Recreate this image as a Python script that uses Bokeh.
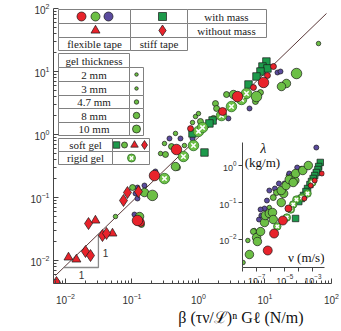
from bokeh.plotting import figure
from bokeh.models import FixedTicker, Label, Title
from bokeh.layouts import column
from bokeh.embed import file_html
from bokeh.resources import INLINE
from bokeh.core.properties import value

# ---------------- main plot data : f - Gamma (N/m) vs beta (tau v / L)^n G l (N/m)
line_x = [0.00708, 84.1]
line_y = [0.00578, 83.4]

red_big_x = [9.5, 0.218, 0.467, 0.121, 3.86]
red_big_y = [6.7, 0.223, 0.578, 0.0432, 4.0]
red_mid_x = [0.134, 2.30]
red_mid_y = [0.0401, 2.32]
red_small_x = [10.9, 13.4, 6.71, 0.759]
red_small_y = [8.65, 12.0, 5.57, 1.24]
tri_x = [0.0111, 0.0146, 0.0282, 0.0509]
tri_y = [0.0112, 0.0104, 0.0432, 0.0269]
dia_x = [0.00733, 0.020, 0.0238, 0.0222, 0.036, 0.0414, 0.0745, 0.0855, 0.125]
dia_y = [0.00448, 0.0139, 0.012, 0.0386, 0.0249, 0.0269, 0.0896, 0.12, 0.124]
sq_x = [10.5, 9.16, 10.9, 8.55, 7.45, 5.65, 1.63, 1.46, 0.813, 1.23]
sq_y = [14.4, 12.0, 11.2, 10.0, 8.34, 6.22, 1.67, 1.50, 1.04, 0.518]
rig_x = [0.308, 0.594, 0.841, 1.0, 1.15, 2.22, 3.13, 4.44, 5.27]
rig_y = [0.20, 0.448, 0.669, 1.12, 1.29, 2.0, 2.78, 3.60, 4.48]
pur_x = [0.109, 0.113, 0.121, 0.154, 0.121, 0.225, 0.536, 0.813, 1.41, 2.82, 5.85, 15.4, 17.1, 0.366]
pur_y = [0.0537, 0.116, 0.144, 0.155, 0.0964, 0.259, 0.865, 0.865, 1.50, 1.80, 2.59, 9.64, 10.0, 0.865]
g2_x = [0.0565, 63.8, 0.269, 0.308, 0.451, 0.615, 0.902, 1.0, 0.813]
g2_y = [0.0499, 27.8, 0.499, 0.72, 1.04, 0.669, 1.93, 2.15, 1.55]
g47_x = [0.102, 0.319, 0.393, 0.483, 1.68, 1.07, 1.80, 1.87, 2.64, 7.19, 0.139, 8.55]
g47_y = [0.144, 0.482, 0.645, 0.299, 1.80, 1.61, 3.10, 2.59, 4.31, 3.34, 0.0373, 4.64]
g8_x = [0.130, 0.154, 0.451, 3.36, 21.0, 17.7]
g8_y = [0.0499, 0.12, 0.310, 4.31, 6.46, 5.78]
g10_x = [0.203, 29.8, 7.45]
g10_y = [0.108, 9.29, 4.0]

# slope triangle (data coordinates)
tri_guide_x = [0.0094, 0.0313, 0.0313]
tri_guide_y = [0.00774, 0.00774, 0.0264]

# ---------------- inset data : lambda (kg/m) vs v (m/s)
ipur_v = [1.73e-3, 2.07e-5, 9.48e-6, 3.82e-6, 1.99e-6, 8.0e-7, 5.42e-7, 3.67e-7, 1.91e-7, 1.48e-7, 2.18e-7, 7.6e-5]
ipur_l = [3.06, 0.608, 0.327, 0.327, 0.239, 0.211, 0.113, 0.0689, 0.0647, 0.0347, 0.0445, 0.883]
ig2_v = [1.10e-8, 2.39e-8, 6.78e-8, 1.46e-4, 1.82e-5, 8.0e-7]
ig2_l = [0.00239, 0.0094, 0.0175, 0.83, 0.537, 0.0733]
ig47_v = [5.94e-8, 2.58e-6, 1.53e-6, 3.06e-5]
ig47_l = [0.0164, 0.186, 0.136, 0.504]
ig8_v = [3.1e-8, 1e-7, 1.14e-7, 1.91e-7, 3.67e-7, 4.18e-7, 8.0e-7, 1.35e-6, 1.53e-6, 5.64e-6,
         8.34e-6, 5.64e-6, 1.23e-5, 2.07e-5, 5.15e-5, 5.86e-5, 1.89e-4, 4.7e-4, 3.97e-5]
ig8_l = [0.00393, 0.0113, 0.00883, 0.0164, 0.0288, 0.0445, 0.0504, 0.0537, 0.0347, 0.1,
         0.175, 0.211, 0.288, 0.419, 0.393, 0.608, 0.733, 1.0, 0.347]
ired_big_v = [6.18e-7, 1.75e-6, 7.31e-6]
ired_big_l = [0.00504, 0.0145, 0.0326]
ired_mid_v = [1.82e-5]
ired_mid_l = [0.0689]
ired_small_v = [2.45e-4, 6.95e-4, 1.33e-3, 4.3e-3]
ired_small_l = [0.128, 0.288, 0.393, 0.608]
isq_v = [3.31e-3, 2.55e-3, 2.24e-3, 1.73e-3, 1.33e-3, 1.03e-3, 7.9e-4, 6.1e-4, 4.13e-4, 3.18e-4,
         2.15e-4, 1.46e-4, 9.87e-5, 5.86e-5]
isq_l = [1.21, 0.94, 0.78, 0.647, 0.537, 0.446, 0.37, 0.306, 0.239, 0.198, 0.155, 0.128, 0.106, 0.037]
irig_v = [9.0e-4, 4.13e-4, 1.66e-4, 6.68e-5, 3.97e-5, 2.69e-5, 1.40e-5, 2.94e-6]
irig_l = [0.347, 0.175, 0.136, 0.12, 0.0883, 0.0647, 0.0393, 0.0225]

# ---------------- ticks
main_ticks = [0.01, 0.1, 1, 10, 100]
inset_x_ticks = [1e-8, 1e-7, 1e-6, 1e-5, 1e-4, 1e-3]
inset_x_hidden = [1e-8, 1e-6, 1e-4]
inset_y_ticks = [0.01, 0.1, 1]

# ---------------- legend tables (texts)
table_texts = ["with mass", "without mass", "flexible tape", "stiff tape",
               "gel thickness", "2 mm", "3 mm", "4.7 mm", "8 mm", "10 mm",
               "soft gel", "rigid gel"]

RED = "#e8232b"
GREEN = "#6cbf45"
PURPLE = "#5b4b9e"
SQGREEN = "#1d9a4b"
EDGE = "#1a1a1a"
GRID = "#808080"

# ---------------- main figure geometry (page px, page has no margin)
W, H = 341, 331
FL, FR, FT, FB = 53, 331, 7, 283
X0, X1 = -2.18, 2.0
Y0, Y1 = -2.365, 2.016


def dx(px):
    return 10 ** (X0 + (px - FL) / (FR - FL) * (X1 - X0))


def dy(py):
    return 10 ** (Y1 - (py - FT) / (FB - FT) * (Y1 - Y0))


p = figure(width=W, height=H, x_axis_type="log", y_axis_type="log",
           x_range=(10 ** X0, 10 ** X1), y_range=(10 ** Y0, 10 ** Y1),
           output_backend="svg", toolbar_location=None,
           min_border_left=FL, min_border_right=W - FR,
           min_border_top=FT, min_border_bottom=H - FB)
p.outline_line_color = None
p.xgrid.visible = False
p.ygrid.visible = False
p.background_fill_color = "white"
p.border_fill_color = "white"

minor = [m * 10 ** e for e in range(-3, 2) for m in range(2, 10)]
for ax in (p.xaxis[0], p.yaxis[0]):
    ax.ticker = FixedTicker(ticks=main_ticks, minor_ticks=minor)
    ax.major_tick_in = 5
    ax.major_tick_out = 0
    ax.minor_tick_in = 3
    ax.minor_tick_out = 0
    ax.axis_line_color = "#444444"
    ax.major_tick_line_color = "#444444"
    ax.minor_tick_line_color = "#444444"
    ax.major_label_text_font = "Liberation Sans"
    ax.major_label_text_font_size = "10px"
    ax.major_label_text_color = "#333333"
p.xaxis.major_label_standoff = 9
p.yaxis.major_label_standoff = 4
p.yaxis.bounds = (10 ** Y0, 100)

# x axis title, right-aligned below the tick labels
p.add_layout(Title(text="β  (τν/ℒ)ⁿ  Gℓ   (N/m)", align="right", offset=12, standoff=0,
                   text_font="Liberation Serif", text_font_style="normal",
                   text_font_size="16px", text_color="#111111"), "below")

# reference line and slope triangle
p.line(line_x, line_y, line_color="#5a3838", line_width=1)
p.line(tri_guide_x, tri_guide_y, line_color="#8a8a8a", line_width=1.3)
p.add_layout(Label(x=dx(81), y=dy(274), text="1", text_font="Liberation Sans",
                   text_font_size="10px", text_color="#333", text_align="center",
                   text_baseline="middle"))
p.add_layout(Label(x=dx(105), y=dy(252), text="1", text_font="Liberation Sans",
                   text_font_size="10px", text_color="#333", text_align="center",
                   text_baseline="middle"))


def circ(fig, xs, ys, color, size, lw=0.7):
    fig.scatter(xs, ys, marker="circle", size=size, fill_color=color,
                line_color=EDGE, line_width=lw)


def rigid(fig, xs, ys, size):
    fig.scatter(xs, ys, marker="circle", size=size, fill_color=GREEN,
                line_color="#2e6e2a", line_width=0.8)
    fig.scatter(xs, ys, marker="x", size=size * 0.6, line_color="white", line_width=1.6)


circ(p, g2_x, g2_y, GREEN, 4.5)
circ(p, pur_x, pur_y, PURPLE, 5)
circ(p, g47_x, g47_y, GREEN, 6)
circ(p, g8_x, g8_y, GREEN, 8.5)
circ(p, g10_x, g10_y, GREEN, 10.5)
p.scatter(sq_x, sq_y, marker="square", size=7.5, fill_color=SQGREEN, line_color=EDGE, line_width=0.7)
rigid(p, rig_x, rig_y, 10.5)
circ(p, red_small_x, red_small_y, RED, 6)
circ(p, red_mid_x, red_mid_y, RED, 8)
circ(p, red_big_x, red_big_y, RED, 10.5)
p.scatter(tri_x, tri_y, marker="triangle", size=9, fill_color=RED, line_color=EDGE, line_width=0.7)
p.scatter(dia_x, dia_y, marker="diamond", size=12, fill_color=RED, line_color=EDGE, line_width=0.7)

# ---------------- legend tables (page px -> data coords)
cells = [(58, 130, 9, 23), (130, 187, 9, 23), (187, 266, 9, 23),
         (58, 130, 23, 37), (130, 187, 23, 37), (187, 266, 23, 37),
         (58, 130, 37, 50), (130, 187, 37, 50),
         (58, 129, 53, 67)]
for (t, b) in [(67, 81), (81, 95), (95, 108), (108, 122), (122, 135)]:
    cells.append((58, 129, t, b))
    cells.append((129, 143, t, b))
cells += [(58, 112, 138, 151), (112, 149, 138, 151), (58, 112, 151, 164), (112, 149, 151, 164)]
p.quad(left=[dx(c[0]) for c in cells], right=[dx(c[1]) for c in cells],
       top=[dy(c[2]) for c in cells], bottom=[dy(c[3]) for c in cells],
       fill_color="white", line_color=GRID, line_width=1)

text_pos = [(226, 16), (226, 30), (94, 43.5), (158.5, 43.5), (93.5, 60), (93.5, 74),
            (93.5, 88), (93.5, 101.5), (93.5, 115), (93.5, 128.5), (85, 144.5), (85, 157.5)]
p.text(x=[dx(t[0]) for t in text_pos], y=[dy(t[1]) for t in text_pos], text=table_texts,
       text_font=value("Liberation Serif"), text_font_size="11px", text_color="#222222",
       text_align="center", text_baseline="middle")

circ(p, [dx(81)], [dy(16)], RED, 9)
circ(p, [dx(95)], [dy(16)], GREEN, 9)
circ(p, [dx(108)], [dy(16)], PURPLE, 9)
p.scatter([dx(162)], [dy(16)], marker="square", size=8, fill_color=SQGREEN, line_color=EDGE, line_width=0.7)
p.scatter([dx(95)], [dy(30)], marker="triangle", size=9, fill_color=RED, line_color=EDGE, line_width=0.7)
p.scatter([dx(162)], [dy(30)], marker="diamond", size=11, fill_color=RED, line_color=EDGE, line_width=0.7)
p.scatter([dx(136)] * 5, [dy(74), dy(88), dy(101.5), dy(115), dy(128.5)], marker="circle",
          size=[3.5, 3.5, 4.5, 6.5, 8], fill_color=GREEN, line_color=EDGE, line_width=0.7)
p.scatter([dx(116)], [dy(144.5)], marker="square", size=6.5, fill_color=SQGREEN, line_color=EDGE, line_width=0.7)
circ(p, [dx(124)], [dy(144.5)], GREEN, 6)
p.scatter([dx(134)], [dy(144.5)], marker="triangle", size=7.5, fill_color=RED, line_color=EDGE, line_width=0.7)
p.scatter([dx(144)], [dy(144.5)], marker="diamond", size=9, fill_color=RED, line_color=EDGE, line_width=0.7)
rigid(p, [dx(131)], [dy(157.5)], 8)

# y axis title (horizontal, top-left)
p.add_layout(Label(x=dx(22), y=dy(33), text="f − Γ", text_font="Liberation Serif",
                   text_font_style="italic", text_font_size="15px", text_color="#111",
                   text_align="center", text_baseline="middle"))
p.add_layout(Label(x=dx(21), y=dy(53), text="(N/m)", text_font="Liberation Serif",
                   text_font_size="15px", text_color="#111",
                   text_align="center", text_baseline="middle"))

# ---------------- inset
IFL, IFR, IFT, IFB = 229, 332, 142, 267
IX0, IX1 = -8.0, -2.18
IY0, IY1 = -2.757, 0.622


def ix(px):
    return 10 ** (IX0 + (px - IFL) / (IFR - IFL) * (IX1 - IX0))


def iy(py):
    return 10 ** (IY1 - (py - IFT) / (IFB - IFT) * (IY1 - IY0))


IBL, IBR, IBT, IBB = 40, 2, 2, 22
inset = figure(width=IBL + (IFR - IFL) + IBR, height=IBT + (IFB - IFT) + IBB,
               x_axis_type="log", y_axis_type="log",
               x_range=(10 ** IX0, 10 ** IX1), y_range=(10 ** IY0, 10 ** IY1),
               output_backend="svg", toolbar_location=None,
               min_border_left=IBL, min_border_right=IBR, min_border_top=IBT, min_border_bottom=IBB)
inset.outline_line_color = None
inset.xgrid.visible = False
inset.ygrid.visible = False
inset.background_fill_alpha = 0
inset.border_fill_alpha = 0
inset.styles = {"position": "absolute", "left": "%dpx" % (IFL - IBL), "top": "%dpx" % (IFT - IBT)}

inset.xaxis.ticker = FixedTicker(ticks=inset_x_ticks, minor_ticks=[])
inset.yaxis.ticker = FixedTicker(ticks=inset_y_ticks, minor_ticks=[])
inset.xaxis.major_label_overrides = {t: "" for t in inset_x_hidden}
for ax in (inset.xaxis[0], inset.yaxis[0]):
    ax.major_tick_in = 0
    ax.major_tick_out = 4
    ax.minor_tick_in = 0
    ax.minor_tick_out = 0
    ax.axis_line_color = "#444444"
    ax.major_tick_line_color = "#444444"
    ax.major_label_text_font = "Liberation Sans"
    ax.major_label_text_font_size = "9px"
    ax.major_label_text_color = "#333333"
    ax.major_label_standoff = 2

circ(inset, ig2_v, ig2_l, GREEN, 4.5)
circ(inset, ipur_v, ipur_l, PURPLE, 5)
circ(inset, ig47_v, ig47_l, GREEN, 6)
circ(inset, ig8_v, ig8_l, GREEN, 8.5)
inset.scatter(isq_v, isq_l, marker="square", size=6.5, fill_color=SQGREEN, line_color=EDGE, line_width=0.7)
rigid(inset, irig_v, irig_l, 7.5)
circ(inset, ired_small_v, ired_small_l, RED, 5)
circ(inset, ired_mid_v, ired_mid_l, RED, 7)
circ(inset, ired_big_v, ired_big_l, RED, 9)

inset.add_layout(Label(x=ix(255), y=iy(148), text="λ", text_font="Liberation Serif",
                       text_font_style="italic", text_font_size="14px", text_color="#111",
                       text_align="center", text_baseline="middle"))
inset.add_layout(Label(x=ix(254), y=iy(162), text="(kg/m)", text_font="Liberation Serif",
                       text_font_size="13px", text_color="#111",
                       text_align="center", text_baseline="middle"))
inset.add_layout(Label(x=ix(332), y=iy(257), text="ν (m/s)", text_font="Liberation Serif",
                       text_font_size="13px", text_color="#111",
                       text_align="right", text_baseline="middle"))

layout = column(p, inset)
open("out.html", "w").write(file_html(layout, INLINE))
